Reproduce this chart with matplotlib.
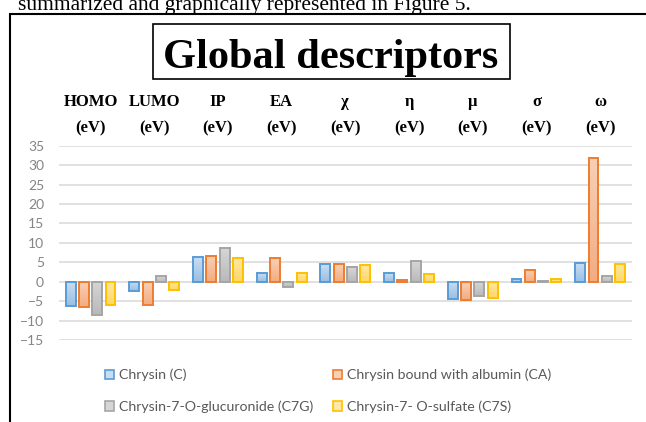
import numpy as np
import matplotlib
matplotlib.use("Agg")
import matplotlib.pyplot as plt
from matplotlib.colors import LinearSegmentedColormap
from matplotlib.patches import Patch, Rectangle

# data
categories = ["HOMO", "LUMO", "IP", "EA", "χ", "η", "μ", "σ", "ω"]
chrysin = [-6.2, -2.4, 6.3, 2.3, 4.5, 2.2, -4.5, 0.7, 4.8]
albumin = [-6.6, -5.9, 6.7, 6.0, 4.6, 0.5, -4.6, 3.1, 31.8]
glucuronide = [-8.6, 1.4, 8.7, -1.3, 3.8, 5.3, -3.6, 0.3, 1.4]
sulfate = [-6.1, -2.1, 6.1, 2.3, 4.3, 2.1, -4.3, 0.7, 4.6]
series_names = ["Chrysin (C)", "Chrysin bound with albumin (CA)",
                "Chrysin-7-O-glucuronide (C7G)", "Chrysin-7- O-sulfate (C7S)"]
yticks = list(range(-15, 40, 5))

# (edge, gradient top, gradient bottom)
styles = [("#5b9bd5", "#c9ddf2", "#98bfe4"),
          ("#ed7d31", "#f9d0b5", "#f3ac80"),
          ("#a5a5a5", "#d6d6d6", "#b9b9b9"),
          ("#ffc000", "#ffe8a3", "#ffd766")]

fig = plt.figure(figsize=(6.46, 4.22), dpi=100)
ax = fig.add_axes([58.7 / 646, 1 - 340 / 422, (632 - 58.7) / 646, (340 - 145.7) / 422])

x = np.arange(len(categories))
step, width = 0.209, 0.155
for k, vals in enumerate([chrysin, albumin, glucuronide, sulfate]):
    edge, ctop, cbot = styles[k]
    bars = ax.bar(x + (k - 1.5) * step, vals, width, facecolor="none",
                  edgecolor=edge, linewidth=1.4, zorder=3)
    cmap = LinearSegmentedColormap.from_list("g%d" % k, [cbot, ctop])
    for b in bars:
        x0, y0 = b.get_xy()
        y1 = y0 + b.get_height()
        img = ax.imshow(np.linspace(0, 1, 64).reshape(-1, 1), cmap=cmap,
                        origin="lower", aspect="auto", zorder=2,
                        extent=[x0, x0 + b.get_width(), min(y0, y1), max(y0, y1)])
        img.set_clip_path(b)

ax.set_xlim(-0.5, len(categories) - 0.5)
ax.set_ylim(-15, 35)
ax.set_yticks(yticks)
ax.grid(axis="y", color="#d9d9d9", linewidth=1.1, zorder=0)
ax.set_axisbelow(True)
for s in ax.spines.values():
    s.set_visible(False)
ax.tick_params(axis="y", length=0, pad=10.5, labelcolor="#858585", labelsize=10)
for t in ax.get_yticklabels():
    t.set_fontfamily("Lato")

ax.set_xticks(x)
ax.set_xticklabels([c + "\n(eV)" for c in categories], fontfamily="Liberation Serif",
                   fontweight="bold", fontsize=12, linespacing=1.8)
ax.tick_params(axis="x", top=True, labeltop=True, bottom=False, labelbottom=False,
               length=0, pad=7)

# outer frame and title box
fig.patches.append(Rectangle((10 / 646, -0.1), 1.2, 1.1 - 14 / 422, transform=fig.transFigure,
                             fill=False, edgecolor="black", linewidth=1.5))
fig.patches.append(Rectangle((153 / 646, 1 - 79 / 422), 357 / 646, 55 / 422,
                             transform=fig.transFigure, fill=False,
                             edgecolor="black", linewidth=1.2))
fig.text(163 / 646, 1 - 68 / 422, "Global descriptors", ha="left", va="baseline",
         fontfamily="Liberation Serif", fontweight="bold", fontsize=30.5)
fig.text(18 / 646, 1 - 10 / 422, "summarized and graphically represented in Figure 5.",
         ha="left", va="baseline", fontfamily="Liberation Serif", fontsize=15.5)

handles = [Patch(facecolor=styles[i][1], edgecolor=styles[i][0], linewidth=1.2, label=series_names[i])
           for i in [0, 2, 1, 3]]
fig.legend(handles=handles, ncol=2, loc="upper left", bbox_to_anchor=(92 / 646, 1 - 356 / 422),
           frameon=False, prop={"family": "Lato", "size": 10.2}, labelcolor="#595959",
           handlelength=0.65, handleheight=0.65, handletextpad=0.35, columnspacing=1.4,
           labelspacing=1.35)

fig.savefig("out.png", dpi=100)
